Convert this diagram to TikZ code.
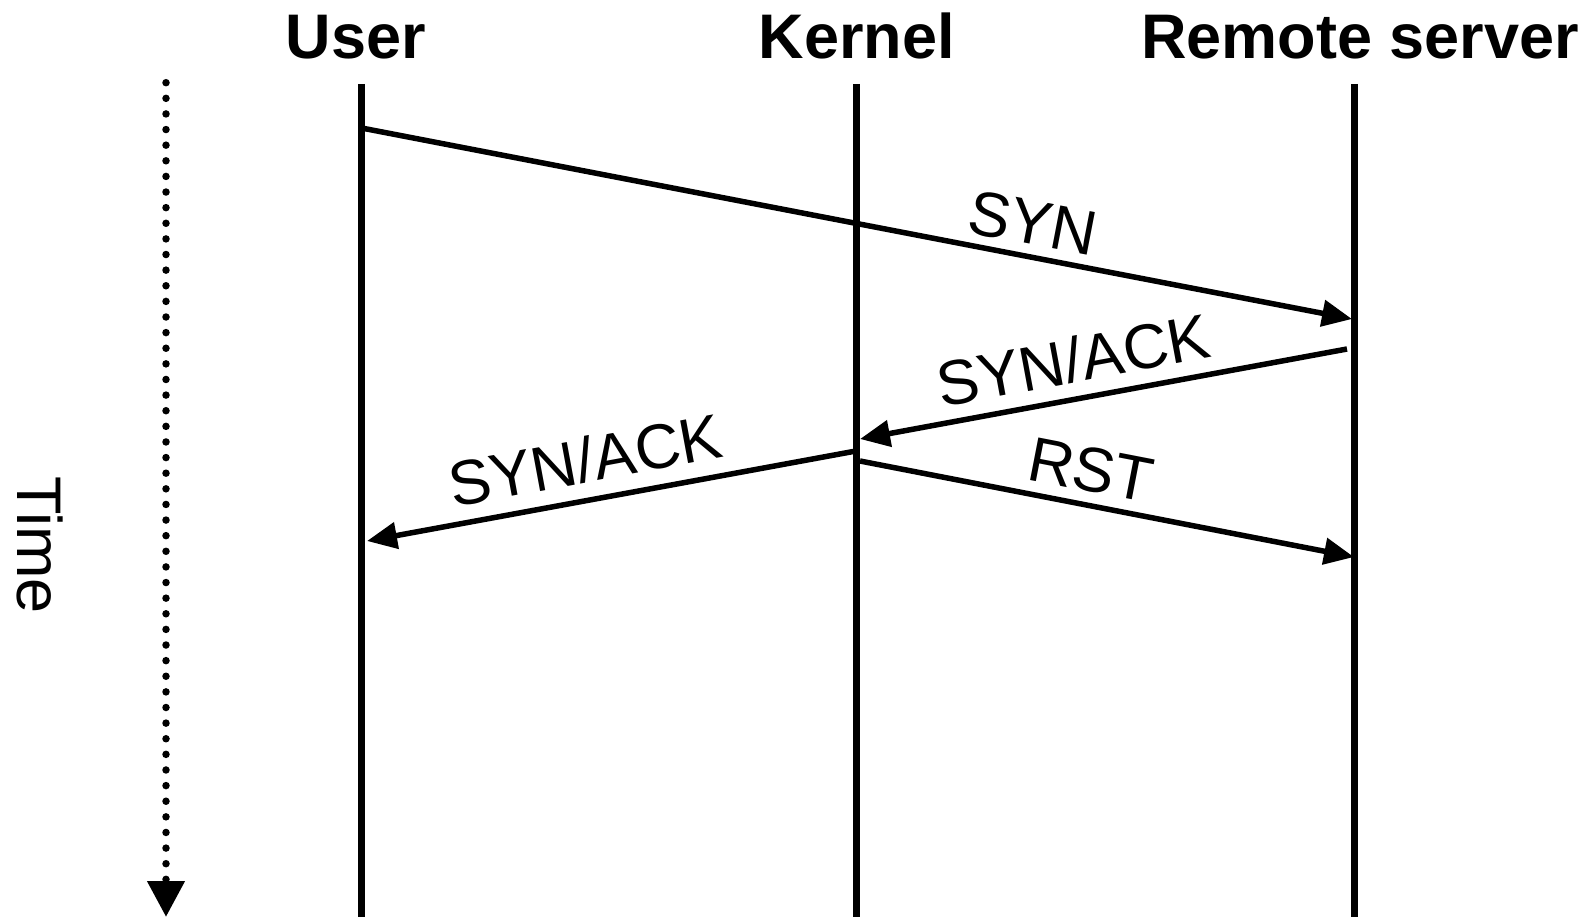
\documentclass[tikz,border=0pt]{standalone}
\usepackage{fontspec}
\setmainfont{Liberation Sans}
\usetikzlibrary{arrows.meta}
\begin{document}
\begin{tikzpicture}[x=1pt,y=-1pt,
  lifeline/.style={line width=7pt},
  msg/.style={line width=5.5pt,-{Triangle[length=30pt,width=26pt]}},
  timeline/.style={line width=7.5pt,line cap=round,dash pattern=on 0pt off 15.62pt,
    -{Triangle[length=36pt,width=36pt]}},
  hdr/.style={font=\fontsize{63}{63}\selectfont\bfseries,anchor=base,inner sep=0pt},
  lbl/.style={font=\fontsize{63}{63}\selectfont,inner sep=0pt}]
\useasboundingbox (0,0) rectangle (1595,917);

% participants
\node[hdr] (huser)   at (356,59)  {User};
\node[hdr] (hkernel) at (857,59)  {Kernel};
\node[hdr] (hremote) at (1360,59) {Remote server};

% lifelines
\coordinate (utop) at (361.5,84);  \coordinate (ubot) at (361.5,917);
\coordinate (ktop) at (856,84);    \coordinate (kbot) at (856,917);
\coordinate (rtop) at (1354,84);   \coordinate (rbot) at (1354,917);
\draw[lifeline] (utop) -- (ubot);
\draw[lifeline] (ktop) -- (kbot);
\draw[lifeline] (rtop) -- (rbot);

% time axis
\coordinate (ttop) at (166,82.7);
\coordinate (tbot) at (166,917);
\draw[timeline] (ttop) -- (tbot);
\node[lbl,rotate=-90] (time) at (40,545) {Time};

% messages
\coordinate (syn-s)  at (361.5,128); \coordinate (syn-e)  at (1352,319);
\coordinate (sa1-s)  at (1347,349);  \coordinate (sa1-e)  at (860,439);
\coordinate (sa2-s)  at (856,451);   \coordinate (sa2-e)  at (367,541);
\coordinate (rst-s)  at (860,461);   \coordinate (rst-e)  at (1354,557);
\draw[msg] (syn-s) -- (syn-e);
\draw[msg] (sa1-s) -- (sa1-e);
\draw[msg] (sa2-s) -- (sa2-e);
\draw[msg] (rst-s) -- (rst-e);

% message labels
\node[lbl,rotate=-10.9] (lsyn) at (1033,223) {SYN};
\node[lbl,rotate=10.5]  (lsa1) at (1073,360) {SYN/ACK};
\node[lbl,rotate=10.5]  (lsa2) at (585,460)  {SYN/ACK};
\node[lbl,rotate=-11]   (lrst) at (1091,470) {RST};
\end{tikzpicture}
\end{document}
